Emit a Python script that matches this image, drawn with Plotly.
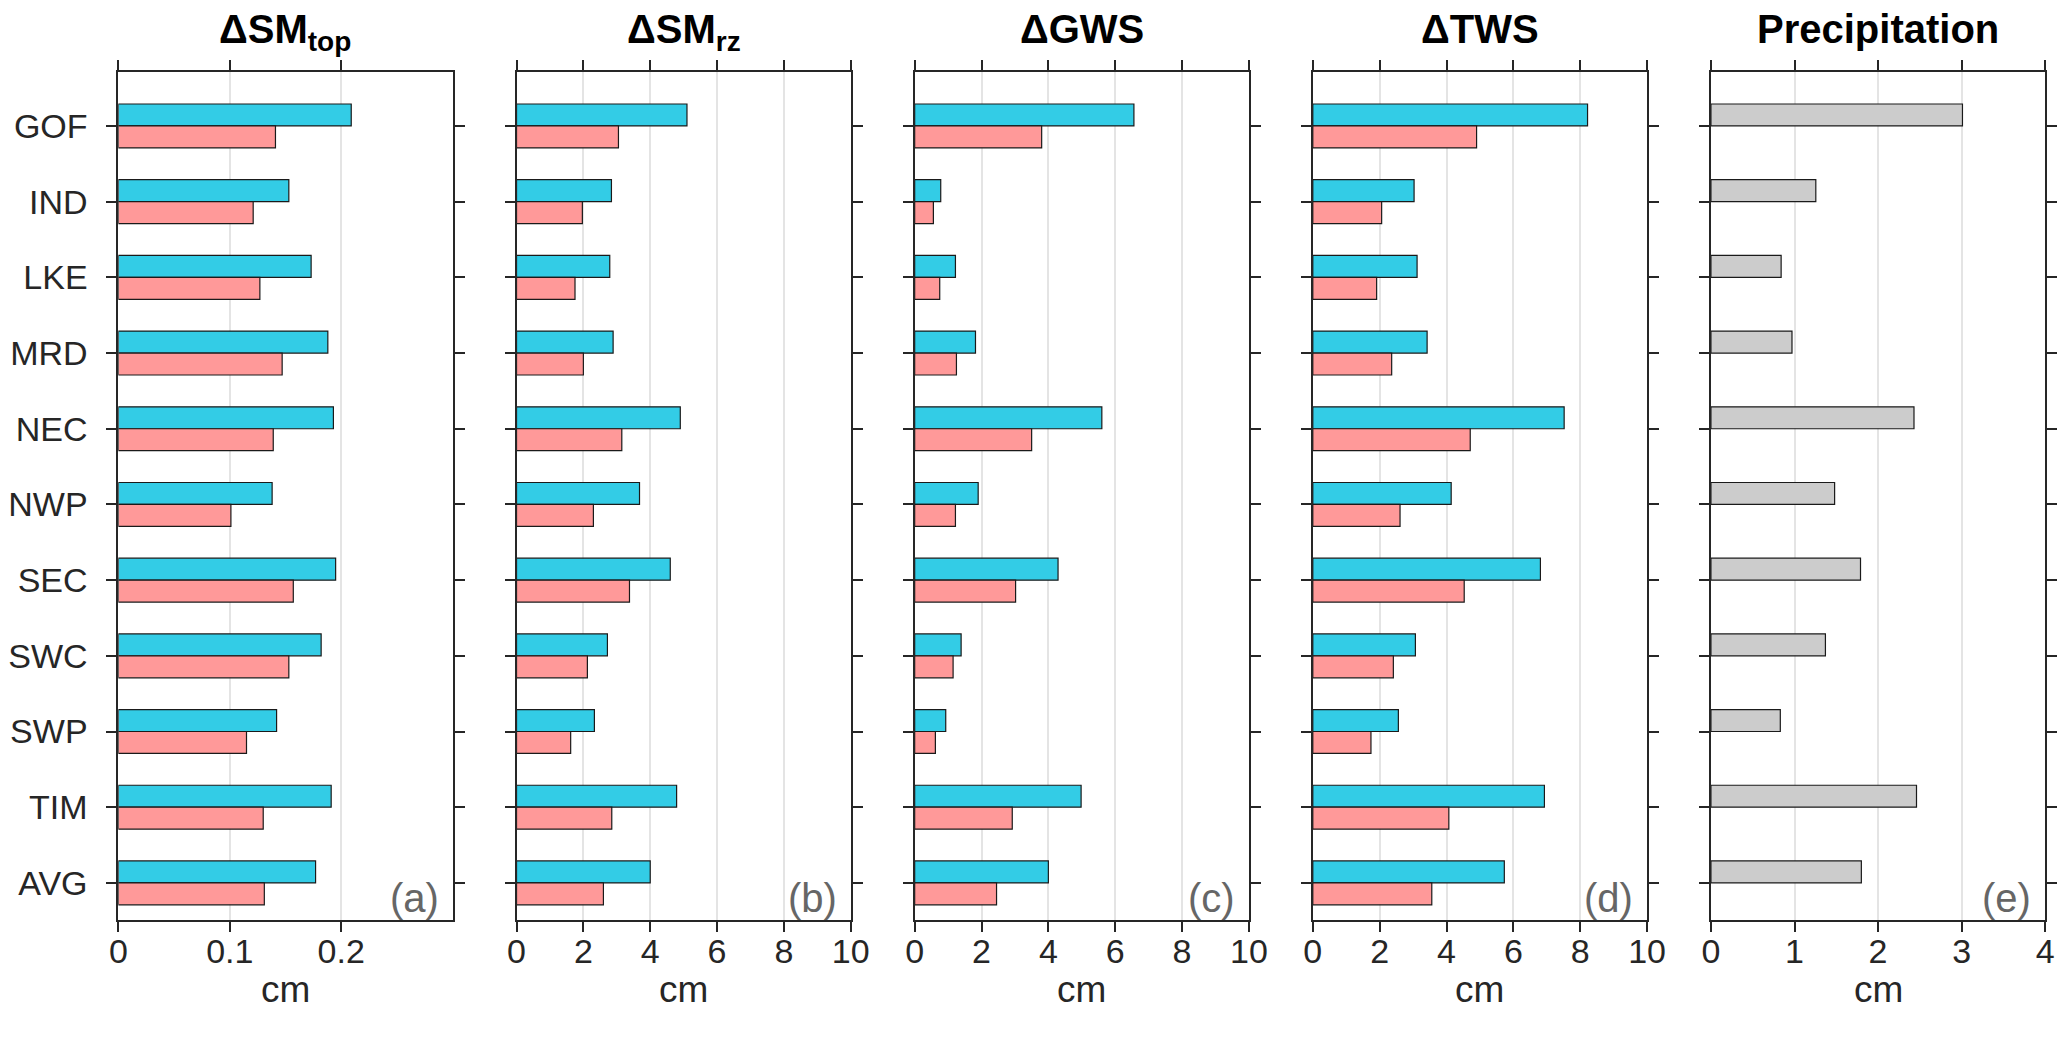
import plotly.graph_objects as go

categories = ["GOF", "IND", "LKE", "MRD", "NEC", "NWP", "SEC", "SWC", "SWP", "TIM", "AVG"]

sm_top_a = [0.209, 0.153, 0.173, 0.188, 0.193, 0.138, 0.195, 0.182, 0.142, 0.191, 0.177]
sm_top_b = [0.141, 0.121, 0.127, 0.147, 0.139, 0.101, 0.157, 0.153, 0.115, 0.130, 0.131]

sm_rz_a = [5.10, 2.84, 2.79, 2.89, 4.90, 3.68, 4.60, 2.72, 2.33, 4.79, 4.00]
sm_rz_b = [3.05, 1.97, 1.75, 2.00, 3.15, 2.30, 3.38, 2.12, 1.62, 2.85, 2.60]

gws_a = [6.56, 0.78, 1.22, 1.82, 5.60, 1.90, 4.29, 1.39, 0.93, 4.98, 4.00]
gws_b = [3.80, 0.56, 0.75, 1.25, 3.50, 1.22, 3.02, 1.15, 0.62, 2.92, 2.45]

tws_a = [8.22, 3.03, 3.12, 3.42, 7.52, 4.14, 6.81, 3.07, 2.56, 6.93, 5.73]
tws_b = [4.90, 2.06, 1.91, 2.36, 4.71, 2.61, 4.53, 2.41, 1.74, 4.07, 3.56]

precip = [3.01, 1.255, 0.84, 0.97, 2.43, 1.48, 1.79, 1.37, 0.83, 2.46, 1.80]

titles = ["<b>ΔSM<sub>top</sub></b>", "<b>ΔSM<sub>rz</sub></b>", "<b>ΔGWS</b>", "<b>ΔTWS</b>", "<b>Precipitation</b>"]
letters = ["(a)", "(b)", "(c)", "(d)", "(e)"]
x_ranges = [[0, 0.3], [0, 10], [0, 10], [0, 10], [0, 4]]
x_ticks = [[0, 0.1, 0.2], [0, 2, 4, 6, 8, 10], [0, 2, 4, 6, 8, 10], [0, 2, 4, 6, 8, 10], [0, 1, 2, 3, 4]]
x_label = "cm"

W, H = 2067, 1064
left_px = [96, 501, 906, 1311, 1716]
panel_w = 340
top_px, bot_px = 64, 912

CYAN = "#33CCE6"
PINK = "#FF9999"
GREY = "#CCCCCC"
AX = "#262626"
FONT = "Liberation Sans, Arial, Helvetica, sans-serif"
BW = 0.29

fig = go.Figure()

series = [(sm_top_a, sm_top_b), (sm_rz_a, sm_rz_b), (gws_a, gws_b), (tws_a, tws_b), (precip, None)]

for i, (sa, sb) in enumerate(series):
    xa = "x" if i == 0 else f"x{i+1}"
    ya = "y" if i == 0 else f"y{i+1}"
    fig.add_trace(go.Bar(
        y=categories, x=sa, orientation="h", width=BW, offset=-BW,
        marker=dict(color=CYAN if sb is not None else GREY, line=dict(color="#1a1a1a", width=1.2)),
        xaxis=xa, yaxis=ya, showlegend=False))
    if sb is not None:
        fig.add_trace(go.Bar(
            y=categories, x=sb, orientation="h", width=BW, offset=0,
            marker=dict(color=PINK, line=dict(color="#1a1a1a", width=1.2)),
            xaxis=xa, yaxis=ya, showlegend=False))

layout = dict(
    width=W, height=H, margin=dict(l=0, r=0, t=0, b=0),
    paper_bgcolor="white", plot_bgcolor="white", barmode="overlay",
    font=dict(family=FONT, size=34, color=AX),
)

annotations = []
for i in range(5):
    xk = "xaxis" if i == 0 else f"xaxis{i+1}"
    yk = "yaxis" if i == 0 else f"yaxis{i+1}"
    x0 = left_px[i] / W
    x1 = (left_px[i] + panel_w) / W
    layout[xk] = dict(
        domain=[x0, x1], range=x_ranges[i], tickvals=x_ticks[i],
        ticktext=[f"{v:g}" for v in x_ticks[i]],
        anchor="y" if i == 0 else f"y{i+1}",
        showline=True, linecolor=AX, linewidth=2, mirror="ticks",
        ticks="outside", ticklen=10, tickwidth=2, tickcolor=AX,
        showgrid=True, gridcolor="#E4E4E4", gridwidth=1.5, zeroline=False,
        tickfont=dict(size=34, color=AX), ticklabelstandoff=-10,
        fixedrange=True,
    )
    layout[yk] = dict(
        domain=[1 - bot_px / H, 1 - top_px / H],
        anchor="x" if i == 0 else f"x{i+1}",
        type="category", categoryorder="array", categoryarray=categories,
        range=[10.49, -0.713],
        showline=True, linecolor=AX, linewidth=2, mirror="ticks",
        ticks="outside", ticklen=10, tickwidth=2, tickcolor=AX,
        showticklabels=(i == 0), tickfont=dict(size=34, color=AX),
        ticklabelstandoff=12, showgrid=False, zeroline=False, fixedrange=True,
    )
    cx = (left_px[i] + panel_w / 2) / W
    annotations.append(dict(
        text=titles[i], x=cx, y=1 + 3 / H, xref="paper", yref="paper",
        xanchor="center", yanchor="top", showarrow=False,
        font=dict(size=40, color="black", family=FONT)))
    annotations.append(dict(
        text=letters[i], x=(left_px[i] + panel_w - 12) / W, y=1 - 890 / H,
        xref="paper", yref="paper", xanchor="right", yanchor="middle",
        showarrow=False, font=dict(size=40, color="#666666", family=FONT)))
    annotations.append(dict(
        text=x_label, x=cx, y=1 - 981 / H, xref="paper", yref="paper",
        xanchor="center", yanchor="middle", showarrow=False,
        font=dict(size=37, color=AX, family=FONT)))

layout["annotations"] = annotations
fig.update_layout(**layout)
fig.write_html("out.html")
